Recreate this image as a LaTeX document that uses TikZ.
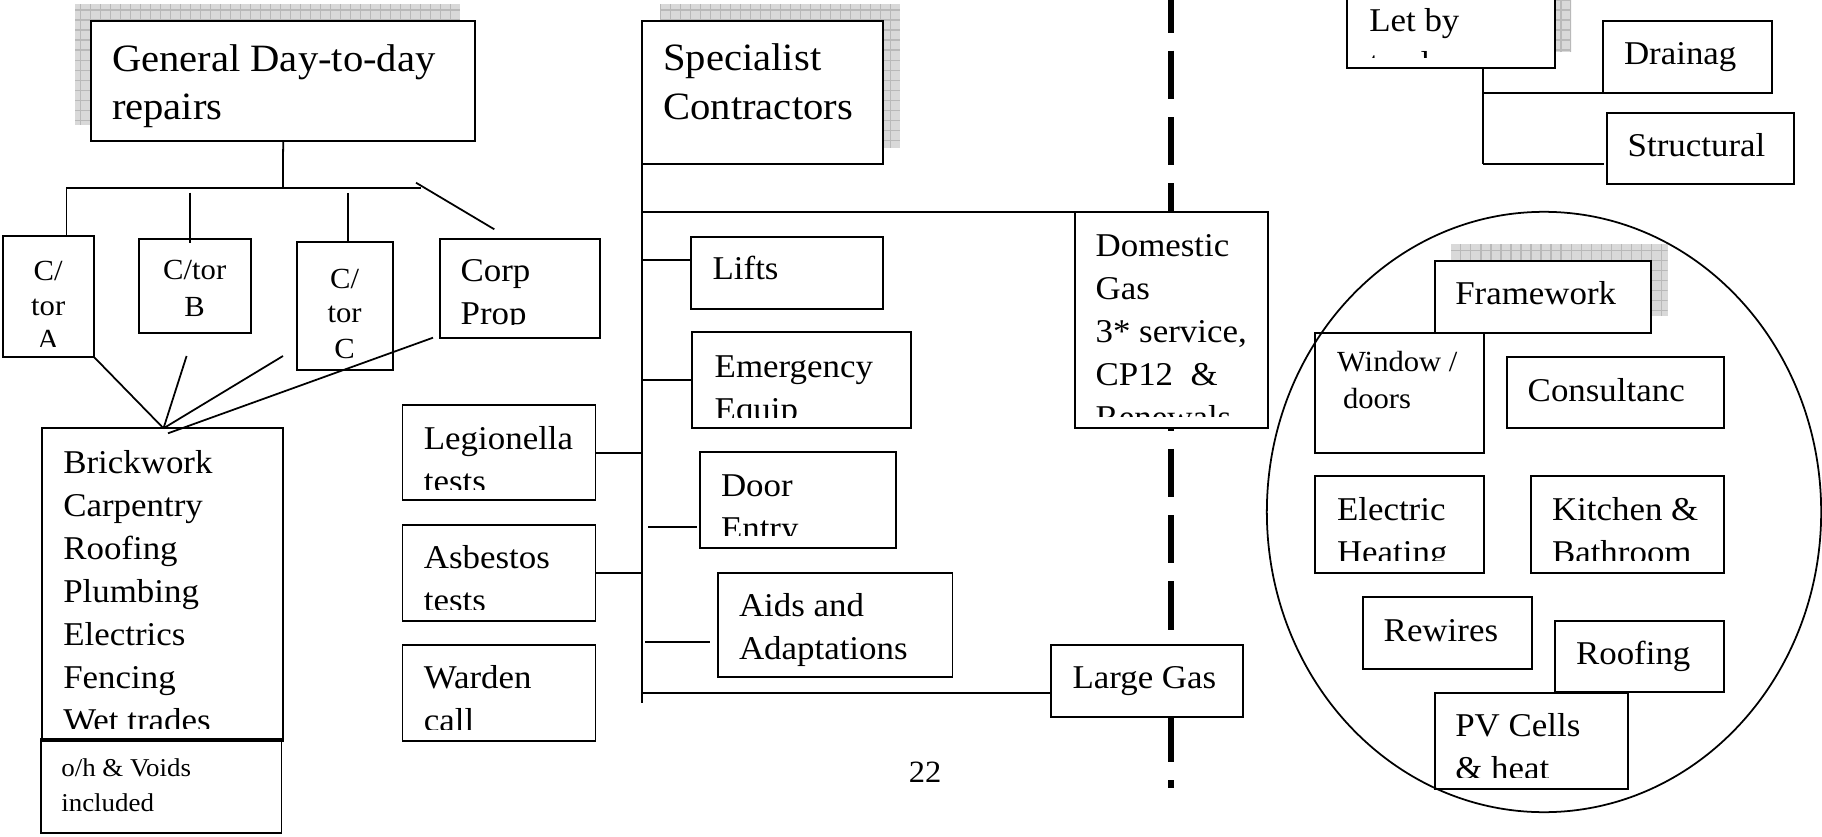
\documentclass[tikz,border=0pt]{standalone}
\usepackage{fontspec}
\setmainfont{Liberation Serif}[FakeStretch=1.05]
\usetikzlibrary{shapes.geometric}
\newcommand\fttitle{\fontsize{11}{13}\selectfont}
\newcommand\ftbody{\fontsize{9.45}{11}\selectfont}
\newcommand\ftsmall{\fontsize{8.3}{10}\selectfont}
\newcommand\fttiny{\fontsize{7.3}{9}\selectfont}
\newcommand\ftpage{\fontsize{8.8}{10}\selectfont}
\tikzset{
  bx/.style={draw, line width=0.55pt, rectangle, inner sep=0pt, outer sep=0pt, anchor=north west},
  wbx/.style={bx, fill=white},
  tx/.style={anchor=base west, inner sep=0pt, outer sep=0pt, font=\ftbody},
  ttl/.style={tx, font=\fttitle},
  ctx/.style={anchor=base, inner sep=0pt, outer sep=0pt, font=\ftsmall},
  ln/.style={line width=0.5pt},
  thickdash/.style={line width=1.7pt, dash pattern=on 0.483cm off 0.18cm, dash phase=0.156cm}
}
% box: [style] name x y w h
\newcommand\mkbox[6][bx]{\node[#1, minimum width=#5*0.01cm, minimum height=#6*0.01cm] (#2) at (#3,#4) {};}
\newcommand\shadowrect[4]{%
  \fill[gray!30] (#1,#2) rectangle (#3,#4);
  \begin{scope}
    \clip (#1,#2) rectangle (#3,#4);
    \draw[gray!55, line width=0.3pt] (#1,#2) grid[step=0.1cm] (#3,#4);
  \end{scope}}
\begin{document}
\begin{tikzpicture}[x=0.01cm, y=-0.01cm]
\useasboundingbox (0,0) rectangle (1822,837);
\clip (0,0) rectangle (1822,837);

% ---------- shadows ----------
\shadowrect{75}{4}{460}{125}
\shadowrect{660}{4}{900}{148}
\shadowrect{1362.7}{-40}{1571}{52.3}
\shadowrect{1451}{244.3}{1667.7}{316}

% ---------- thick dashed divider ----------
\coordinate (dtop) at (1171.4,0);
\coordinate (dbot) at (1171.4,788);
\draw[thickdash] (dtop) -- (dbot);

% ---------- left: general repairs ----------
\mkbox[wbx]{gen}{91}{20.7}{384.3}{120}
\node[ttl] (genA) at (112,71.7) {General Day-to-day};
\node[ttl] (genB) at (112,120) {repairs};

\mkbox{ctA}{2.8}{236}{90.9}{120.7}
\node[ctx] (ctA1) at (48.2,281) {C/};
\node[ctx] (ctA2) at (48.2,315.5) {tor};
\begin{scope}\clip (2.8,236) rectangle (93.7,347);
\node[ctx] (ctA3) at (48.2,350) {A};
\end{scope}

\mkbox{ctB}{138.8}{238.7}{111.9}{94}
\node[ctx] (ctB1) at (194.7,279.5) {C/tor};
\node[ctx] (ctB2) at (194.7,316.5) {B};

\mkbox{ctC}{296.6}{242.3}{96}{127.7}
\node[ctx] (ctC1) at (344.6,288) {C/};
\node[ctx] (ctC2) at (344.6,323) {tor};
\node[ctx] (ctC3) at (344.6,358) {C};

\mkbox{corp}{440}{239}{160.2}{99.3}
\node[tx] (corp1) at (460.6,282) {Corp};
\begin{scope}\clip (440,239) rectangle (600.2,324.5);
\node[tx] (corp2) at (460.6,325) {Prop};
\end{scope}

\mkbox{brick}{42.3}{428.3}{240.7}{312.4}
\node[tx] (br1) at (63.3,473) {Brickwork};
\node[tx] (br2) at (63.3,516) {Carpentry};
\node[tx] (br3) at (63.3,559) {Roofing};
\node[tx] (br4) at (63.3,602) {Plumbing};
\node[tx] (br5) at (63.3,645) {Electrics};
\node[tx] (br6) at (63.3,688) {Fencing};
\begin{scope}\clip (42.3,428.3) rectangle (283,728);
\node[tx] (br7) at (63.3,731) {Wet trades};
\end{scope}

\mkbox{oh}{40.7}{739}{240.8}{94.3}
\node[tx, font=\fttiny] (oh1) at (61.3,776.7) {o/h \& Voids};
\node[tx, font=\fttiny] (oh2) at (61.3,811.7) {included};

% connectors (general)
\coordinate (jg) at (283,188.3);
\coordinate (hl) at (66.4,188.3);
\coordinate (hr) at (421,188.3);
\draw[ln] (gen.south) -- (jg);
\draw[ln] (hl) -- (hr);
\draw[ln] (hl) -- (hl |- ctA.north);
\coordinate (bT) at (189.8,192.7); \coordinate (bB) at (189.8,242.7);
\draw[ln] (bT) -- (bB);
\coordinate (cT) at (348,193); \coordinate (cB) at (348,242.3);
\draw[ln] (cT) -- (cB);
\coordinate (dgA) at (416,182.7); \coordinate (dgB) at (494.3,229.3);
\draw[ln] (dgA) -- (dgB);
\coordinate (apex) at (163.5,428.3);
\coordinate (apex2) at (168,433.3);
\coordinate (sB) at (186.6,356);
\coordinate (sC) at (283,356);
\coordinate (sD) at (433,337.7);
\draw[ln] (ctA.south east) -- (apex);
\draw[ln] (sB) -- (apex);
\draw[ln] (sC) -- (apex);
\draw[ln] (sD) -- (apex2);

% ---------- middle: specialist ----------
\mkbox[wbx]{spec}{642.3}{20.7}{240.7}{143.6}
\node[ttl] (spec1) at (663.4,70.7) {Specialist};
\node[ttl] (spec2) at (663.4,120) {Contractors};

\mkbox{leg}{402.5}{404.7}{193}{95.3}
\node[tx] (leg1) at (423.9,449) {Legionella};
\begin{scope}\clip (402.5,404.7) rectangle (595.5,489);
\node[tx] (leg2) at (423.9,492) {tests};
\end{scope}

\mkbox{asb}{402.5}{525}{193}{95.7}
\node[tx] (asb1) at (423.9,568.3) {Asbestos};
\begin{scope}\clip (402.5,525) rectangle (595.5,609);
\node[tx] (asb2) at (423.9,611) {tests};
\end{scope}

\mkbox{ward}{402.5}{645}{193}{95.7}
\node[tx] (ward1) at (423.9,688.3) {Warden};
\begin{scope}\clip (402.5,645) rectangle (595.5,729.5);
\node[tx] (ward2) at (423.9,731) {call};
\end{scope}

\mkbox{lifts}{690.7}{236.7}{192.3}{72.6}
\node[tx] (lifts1) at (712.6,280) {Lifts};

\mkbox{emerg}{692.4}{332.3}{218.9}{96}
\node[tx] (em1) at (714.7,377) {Emergency};
\begin{scope}\clip (692.4,332.3) rectangle (911.3,417);
\node[tx] (em2) at (714.7,420) {Equip};
\end{scope}

\mkbox{door}{700}{451.7}{196}{96}
\node[tx] (door1) at (721,496) {Door};
\begin{scope}\clip (700,451.7) rectangle (896,535);
\node[tx] (door2) at (721,539) {Entry};
\end{scope}

\mkbox{aids}{717.6}{573.3}{234.9}{104}
\node[tx] (aids1) at (739,616.7) {Aids and};
\node[tx] (aids2) at (739,659.3) {Adaptations};

\mkbox[wbx]{dom}{1074.6}{211.7}{193.6}{216.6}
\node[tx] (dom1) at (1095.6,256.7) {Domestic};
\node[tx] (dom2) at (1095.6,299.7) {Gas};
\node[tx] (dom3) at (1095.6,342.7) {3* service,};
\node[tx] (dom4) at (1095.6,385.7) {CP12~ \&};
\begin{scope}\clip (1074.6,211.7) rectangle (1268.2,416.7);
\node[tx] (dom5) at (1095.6,428.7) {Renewals};
\end{scope}

\mkbox[wbx]{lgas}{1051}{645}{192}{71.7}
\node[tx] (lgas1) at (1072.5,688.3) {Large Gas};

\node[anchor=base, inner sep=0pt, font=\ftpage] (pagenum) at (925,782.7) {22};

% connectors (specialist)
\coordinate (spT) at (642.3,164.3);
\coordinate (spB) at (642.3,702.7);
\draw[ln] (spT) -- (spB);
\draw[ln] (642.3,211.7) -- (dom.north west);
\draw[ln] (642.3,260) -- (lifts.west |- 642.3,260);
\draw[ln] (642.3,380) -- (emerg.west |- 642.3,380);
\draw[ln] (leg.east |- 0,452.7) -- (642.3,452.7);
\draw[ln] (asb.east |- 0,572.7) -- (642.3,572.7);
\coordinate (doorL) at (648.2,527.3); \coordinate (doorR) at (697,527.3);
\draw[ln] (doorL) -- (doorR);
\coordinate (aidsL) at (645.3,641.7); \coordinate (aidsR) at (710,641.7);
\draw[ln] (aidsL) -- (aidsR);
\draw[ln] (642.3,693.3) -- (lgas.west |- 0,693.3);

% ---------- right: let by tender ----------
\mkbox[wbx]{letby}{1346.7}{-30}{208.3}{98.3}
\node[tx] (let1) at (1369.3,31.7) {Let by};
\begin{scope}\clip (1346.7,-30) rectangle (1555,58);
\node[tx] (let2) at (1369.3,74.7) {tender};
\end{scope}

\mkbox{drain}{1603.3}{20.7}{168.4}{72}
\node[tx] (drain1) at (1624,65) {Drainag};
\mkbox{struct}{1606.7}{112.7}{187.3}{71.6}
\node[tx] (struct1) at (1627.7,156.7) {Structural};

\coordinate (lbA) at (1483.3,68.3);
\coordinate (lbB) at (1483.3,92.7);
\coordinate (lbC) at (1483.3,164.3);
\coordinate (stL) at (1604,164.3);
\draw[ln] (lbA) -- (lbC);
\draw[ln] (lbB) -- (drain.south west);
\draw[ln] (lbC) -- (stL);

% ---------- right: ring of contracts ----------
\mkbox[wbx]{frame}{1434.7}{261}{216.6}{71.7}
\node[tx] (frame1) at (1455.3,304.3) {Framework};

\mkbox{win}{1315.3}{332.7}{168.4}{120}
\node[tx, font=\ftsmall] (win1) at (1337,371.7) {Window /};
\node[tx, font=\ftsmall] (win2) at (1343,408.3) {doors};

\mkbox{consult}{1507}{356.7}{217.3}{71.6}
\node[tx] (cons1) at (1527.7,401.7) {Consultanc};

\mkbox{elec}{1315.3}{475.7}{168.4}{97}
\node[tx] (elec1) at (1337,520) {Electric};
\begin{scope}\clip (1315.3,475.7) rectangle (1483.7,560);
\node[tx] (elec2) at (1337,563) {Heating};
\end{scope}

\mkbox{kitch}{1531.3}{475.7}{192.7}{97}
\node[tx] (kit1) at (1552,520) {Kitchen \&};
\begin{scope}\clip (1531.3,475.7) rectangle (1724,560);
\node[tx] (kit2) at (1552,563) {Bathroom};
\end{scope}

\mkbox{rewire}{1363}{597}{169}{72.3}
\node[tx] (rew1) at (1383.7,641) {Rewires};

\mkbox{roof}{1555.3}{621}{168.7}{71}
\node[tx] (roof1) at (1576,664.7) {Roofing};

\mkbox{pv}{1435.3}{693}{192.4}{95.7}
\node[tx] (pv1) at (1455.3,736.3) {PV Cells};
\begin{scope}\clip (1435.3,693) rectangle (1627.7,777);
\node[tx] (pv2) at (1455.3,779) {\& heat};
\end{scope}

\node[draw, ellipse, line width=0.5pt, inner sep=0pt, minimum width=5.54cm, minimum height=6.0cm] (ring) at (1544,512) {};
\end{tikzpicture}
\end{document}
